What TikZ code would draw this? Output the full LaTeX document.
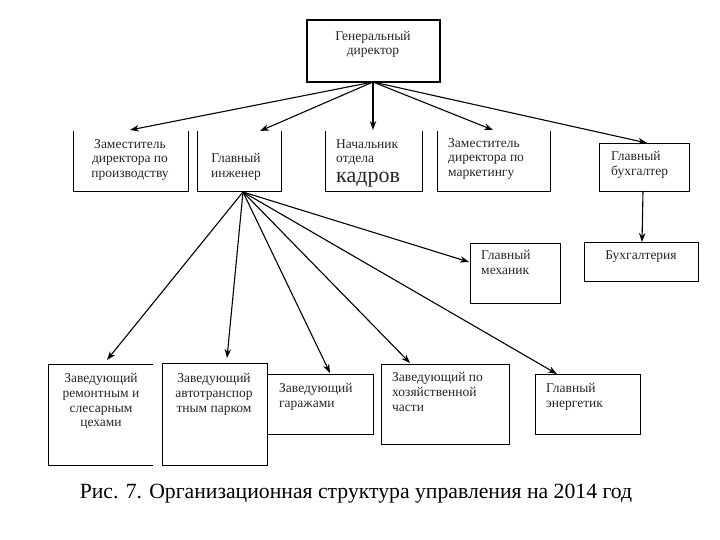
\documentclass[tikz,border=0pt]{standalone}
\usepackage{fontspec}
\setmainfont{Liberation Serif}
\usetikzlibrary{arrows.meta}
\begin{document}
\begin{tikzpicture}[x=1pt,y=-1pt,
  frame/.style={draw=none, inner sep=0pt, outer sep=0pt, anchor=north west},
  fullbox/.style={frame, draw=black, line width=0.8pt},
  side/.style={line width=0.8pt},
  arr/.style={line width=1.1pt, -{Stealth[length=9pt,width=6.5pt]}},
  txt/.style={inner sep=0pt, font=\fontsize{13.5}{14.8}\selectfont, text=black!85},
]
\useasboundingbox (0,0) rectangle (720,540);
% top
\node[frame, draw=black, line width=2pt, minimum width=133pt, minimum height=62pt] (gd) at (307,20) {};
\node[txt, anchor=north, align=center, font=\fontsize{13.5}{13.8}\selectfont] (gdt) at (373,31) {Генеральный\\директор};
% second row (open top)
\node[frame, minimum width=115pt, minimum height=60pt] (A) at (73,131) {};
\node[frame, minimum width=84pt, minimum height=60pt] (B) at (197,131) {};
\node[frame, minimum width=97pt, minimum height=60pt] (C) at (325,131) {};
\node[frame, minimum width=113pt, minimum height=60pt] (D) at (437,131) {};
\foreach \n in {A,B,C,D}{\draw[side] (\n.north west) -- (\n.south west) -- (\n.south east) -- (\n.north east);}
\node[fullbox, minimum width=90pt, minimum height=48pt] (GB) at (599,143) {};
\node[txt, anchor=north, align=center] (At) at (130,139) {Заместитель\\директора по\\производству};
\node[txt, anchor=north, align=center] (Bt) at (236,153) {Главный\\инженер};
\node[txt, anchor=north west, align=left] (Ct) at (336,139) {Начальник\\отдела\\[5pt]{\fontsize{22}{22}\selectfont кадров}};
\node[txt, anchor=north west, align=left] (Dt) at (448,138) {Заместитель\\директора по\\маркетингу};
\node[txt, anchor=north west, align=left] (GBt) at (611,151) {Главный\\бухгалтер};
% right side
\node[fullbox, minimum width=114pt, minimum height=39pt] (BUH) at (584,242) {};
\node[txt, anchor=north] (BUHt) at (641,250) {Бухгалтерия};
\node[fullbox, minimum width=90pt, minimum height=60pt] (MEH) at (470,243) {};
\node[txt, anchor=north west, align=left] (MEHt) at (481,250) {Главный\\механик};
% bottom row
\node[frame, minimum width=105pt, minimum height=101pt] (R1) at (48,364) {};
\draw[side] (R1.north east) -- (R1.north west) -- (R1.south west) -- (R1.south east);
\node[fullbox, minimum width=105pt, minimum height=102pt] (R2) at (162,363) {};
\node[fullbox, minimum width=106pt, minimum height=60pt] (R3) at (267,374) {};
\node[fullbox, minimum width=128pt, minimum height=80pt] (R4) at (381,364) {};
\node[fullbox, minimum width=105pt, minimum height=60pt] (R5) at (535,374) {};
\node[txt, anchor=north, align=center] (R1t) at (101,373) {Заведующий\\ремонтным и\\слесарным\\цехами};
\node[txt, anchor=north, align=center] (R2t) at (214,373) {Заведующий\\автотранспор\\тным парком};
\node[txt, anchor=north west, align=left] (R3t) at (279,383) {Заведующий\\гаражами};
\node[txt, anchor=north west, align=left] (R4t) at (392,372) {Заведующий по\\хозяйственной\\части};
\node[txt, anchor=north west, align=left] (R5t) at (546,383) {Главный\\энергетик};
% caption
\node[inner sep=0pt, anchor=base, font=\fontsize{21.7}{24}\selectfont] (cap) at (356,498) {Рис. 7. Организационная структура управления на 2014 год};
% connector points
\coordinate (gdout) at (373,82);
\coordinate (tA) at (130,130);
\coordinate (tB) at (260,131);
\coordinate (tC) at (373,130);
\coordinate (tD) at (493,130);
\coordinate (tGB) at (647,143);
\coordinate (gbout) at (643,191);
\coordinate (tBUH) at (642,242);
\coordinate (eng) at (243,192);
\coordinate (t1) at (107,360);
\coordinate (t2) at (227,358);
\coordinate (t3) at (330,373);
\coordinate (t4) at (410,363);
\coordinate (t5) at (557,374);
\coordinate (tM) at (469,262);
\foreach \t in {tA,tB,tC,tD,tGB}{\draw[arr] (gdout) -- (\t);}
\draw[arr] (gbout) -- (tBUH);
\foreach \t in {t1,t2,t3,t4,t5,tM}{\draw[arr] (eng) -- (\t);}
\end{tikzpicture}
\end{document}
